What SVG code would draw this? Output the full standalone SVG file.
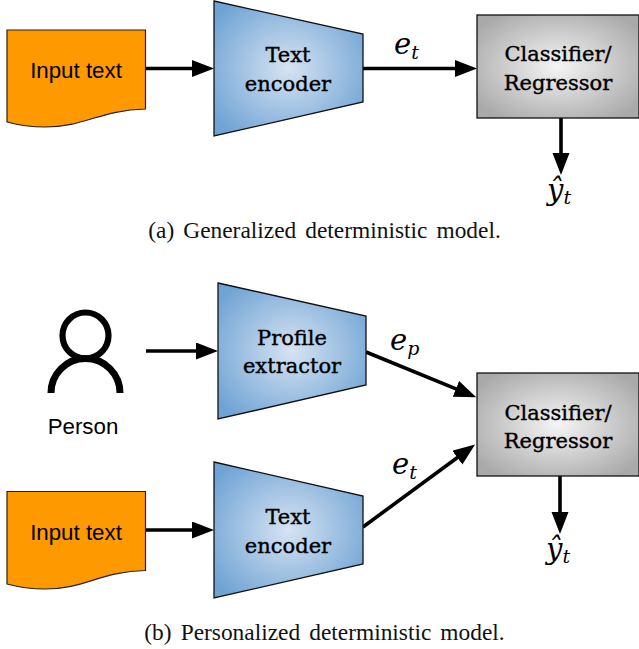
<svg xmlns="http://www.w3.org/2000/svg" width="639" height="649" viewBox="0 0 639 649">
<style>
.edge{fill:none;stroke:#000;stroke-width:3.6;marker-end:url(#arrow)}
.doc{fill:#ff9900;stroke:#222;stroke-width:1.2}
.trap{fill:url(#blue);stroke:#111;stroke-width:1.3}
.box{fill:url(#grey);stroke:#111;stroke-width:1.3}
.sans{font-family:"Liberation Sans",Arial,sans-serif;font-size:22.3px;fill:#000;text-anchor:middle}
.block{font-family:"DejaVu Serif","Liberation Serif",serif;font-size:21px;fill:#000;text-anchor:middle;stroke:#000;stroke-width:.4}
.cap{font-family:"Liberation Serif","Times New Roman",serif;font-size:23.4px;fill:#111;text-anchor:middle;word-spacing:3.2px}
.math{font-family:"DejaVu Serif","Liberation Serif",serif;font-style:italic;font-size:29px;fill:#000}
.sub{font-size:19px}
</style>
<defs>
<radialGradient id="blue" cx="0.5" cy="0.5" r="0.62"><stop offset="0" stop-color="#d6e3f2"/><stop offset="1" stop-color="#6fa3d4"/></radialGradient>
<radialGradient id="grey" cx="0.5" cy="0.5" r="0.62"><stop offset="0" stop-color="#f5f5f5"/><stop offset="1" stop-color="#a9a9a9"/></radialGradient>
<marker id="arrow" markerUnits="userSpaceOnUse" markerWidth="24" markerHeight="18" refX="12" refY="8.500" orient="auto"><path d="M0 0L22 8.500L0 17z" fill="#000"/></marker>
</defs>
<g id="connectors">
<path class="edge" d="M146 68.500H204"/>
<path class="edge" d="M363 68.500H467"/>
<path class="edge" d="M561 118V165"/>
<path class="edge" d="M146 351H208"/>
<path class="edge" d="M366 352L467 393.400"/>
<path class="edge" d="M146 530H204"/>
<path class="edge" d="M363 527L467 450.500"/>
<path class="edge" d="M560 476V524"/>
</g>
<g id="input-a"><path class="doc" d="M7 30H145.500V109C100 110 85 127 45 127C28 127 18 125 7 122Z"/><text class="sans" x="76" y="78">Input text</text></g>
<g id="encoder-a"><path class="trap" d="M214 1L363 34V102L214 136Z"/><text class="block" x="288" y="61.500">Text</text><text class="block" x="288" y="90.500">encoder</text></g>
<g id="classifier-a"><rect class="box" x="477" y="15" width="162" height="103"/><text class="block" x="558" y="61">Classifier/</text><text class="block" x="558" y="89.500">Regressor</text></g>
<g id="label-et-a"><text class="math" x="394" y="54">e<tspan class="sub" dy="5">t</tspan></text></g>
<g id="label-yhat-a"><text class="math" x="547" y="200">ŷ<tspan class="sub" dy="4">t</tspan></text></g>
<text class="cap" x="324.500" y="238">(a) Generalized deterministic model.</text>
<g id="person"><circle cx="85.500" cy="335.500" r="23" fill="none" stroke="#000" stroke-width="6.200"/><path d="M51 393A34.500 34.500 0 0 1 120 393" fill="none" stroke="#000" stroke-width="7"/><text class="sans" x="83" y="434">Person</text></g>
<g id="extractor"><path class="trap" d="M218 283L366 316V385L218 419Z"/><text class="block" x="292" y="344.500">Profile</text><text class="block" x="292" y="372.500">extractor</text></g>
<g id="input-b"><path class="doc" d="M7 491.500H145.500V570.500C100 571.500 85 589 45 589C28 589 18 587 7 584Z"/><text class="sans" x="76" y="540">Input text</text></g>
<g id="encoder-b"><path class="trap" d="M214 462L363 496V564L214 598Z"/><text class="block" x="288" y="523.500">Text</text><text class="block" x="288" y="552.500">encoder</text></g>
<g id="classifier-b"><rect class="box" x="477" y="373" width="162" height="103"/><text class="block" x="558" y="419.500">Classifier/</text><text class="block" x="558" y="448">Regressor</text></g>
<g id="label-ep"><text class="math" x="390" y="350">e<tspan class="sub" dy="5">p</tspan></text></g>
<g id="label-et-b"><text class="math" x="392" y="474">e<tspan class="sub" dy="5">t</tspan></text></g>
<g id="label-yhat-b"><text class="math" x="546" y="559">ŷ<tspan class="sub" dy="4">t</tspan></text></g>
<text class="cap" x="324.500" y="640">(b) Personalized deterministic model.</text>
</svg>
